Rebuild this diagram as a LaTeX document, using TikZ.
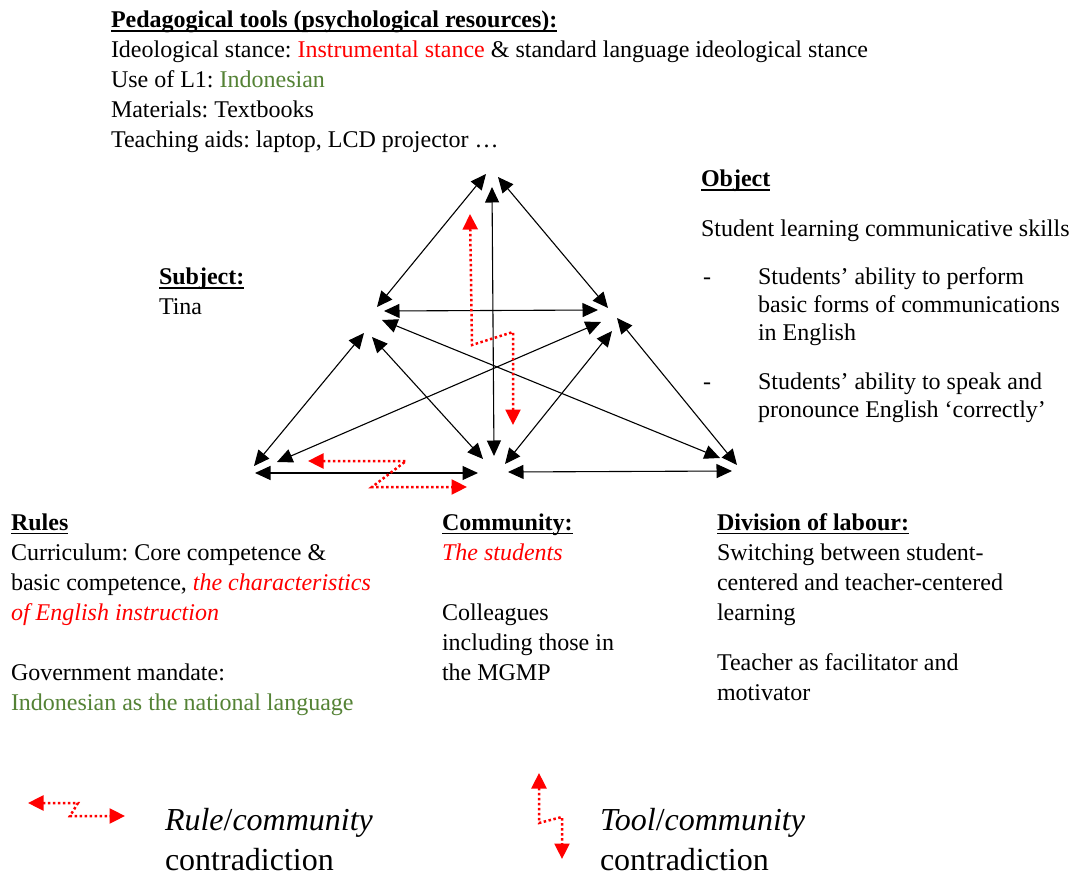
\documentclass[tikz,border=0pt]{standalone}
\usepackage{fontspec}
\setmainfont{Liberation Serif}
\usetikzlibrary{arrows.meta}
\definecolor{clashred}{RGB}{255,0,0}
\definecolor{langgreen}{RGB}{84,130,53}
\frenchspacing
% bold heading with a rule just under the baseline
\newcommand{\headline}[1]{\setbox0\hbox{\bfseries #1}\rlap{\rule[-4pt]{\wd0}{1.5pt}}\box0}
% left-aligned lines, baseline on the first line
\newcommand{\rows}[1]{\begin{tabular}[t]{@{}l@{}}#1\end{tabular}}
% two stacked lines without struts, baseline on the first line
\newcommand{\tworows}[2]{\vtop{\hbox{#1}\hbox{#2}}}
\begin{document}
\begin{tikzpicture}[x=1pt,y=-1pt,
  every node/.style={inner sep=0pt,outer sep=0pt},
  txt/.style={anchor=base west,font=\fontsize{24}{30}\selectfont},
  tighttxt/.style={anchor=base west,font=\fontsize{24}{28}\selectfont},
  legendtxt/.style={anchor=base west,font=\fontsize{32}{40}\selectfont},
  link/.style={line width=1.1pt,{Triangle[length=15.5pt,width=14pt]}-{Triangle[length=15.5pt,width=14pt]}},
  clash/.style={clashred,line width=2.5pt,dash pattern=on 2.5pt off 2.5pt,
    {Triangle[length=15.5pt,width=15pt]}-{Triangle[length=15.5pt,width=15pt]}}]
\fill[white] (0,0) rectangle (1073,874);
\useasboundingbox (0,0) rectangle (1073,874);

% ---------- text blocks ----------
\node[txt] (tools) at (111,28) {\rows{\headline{Pedagogical tools (psychological resources):}\\
  Ideological stance: \textcolor{clashred}{Instrumental stance} \& standard language ideological stance\\
  Use of L1: \textcolor{langgreen}{Indonesian}\\
  Materials: Textbooks\\
  Teaching aids: laptop, LCD projector …}};

\node[txt] (objhead) at (701,187) {\headline{Object}};
\node[txt] (objtext) at (701,237) {Student learning communicative skills};
\node[txt] (dash1) at (703,285) {-};
\node[tighttxt] (obj1) at (758,285) {\rows{Students’ ability to perform\\basic forms of communications\\in English}};
\node[txt] (dash2) at (703,389) {-};
\node[tighttxt] (obj2) at (758,389) {\rows{Students’ ability to speak and\\pronounce English ‘correctly’}};

\node[txt] (subject) at (159,285) {\rows{\headline{Subject:}\\Tina}};

\node[txt] (rules) at (11,530) {\rows{\headline{Rules}\\
  Curriculum: Core competence \&\\
  basic competence, \textcolor{clashred}{\itshape the characteristics}\\
  \textcolor{clashred}{\itshape of English instruction}\\[30pt]
  Government mandate:\\
  \textcolor{langgreen}{Indonesian as the national language}}};

\node[txt] (community) at (442,530) {\rows{\headline{Community:}\\
  \textcolor{clashred}{\itshape The students}\\[30pt]
  Colleagues\\
  including those in\\
  the MGMP}};

\node[txt] (division) at (717,530) {\rows{\headline{Division of labour:}\\
  Switching between student-\\
  centered and teacher-centered\\
  learning\\[20pt]
  Teacher as facilitator and\\
  motivator}};

% ---------- end points of the links around each corner ----------
\coordinate (ts1) at (486,174); \coordinate (ts2) at (377,307);
\coordinate (to1) at (498,177); \coordinate (to2) at (608,308);
\coordinate (tc1) at (492,187); \coordinate (tc2) at (494,456);
\coordinate (so1) at (384,311); \coordinate (so2) at (598,310);
\coordinate (sd1) at (382,320); \coordinate (sd2) at (720,458);
\coordinate (or1) at (601,322); \coordinate (or2) at (277,462);
\coordinate (sr1) at (364,333); \coordinate (sr2) at (254,466);
\coordinate (sc1) at (372,337); \coordinate (sc2) at (483,459);
\coordinate (oc1) at (612,331); \coordinate (oc2) at (505,464);
\coordinate (od1) at (617,318); \coordinate (od2) at (737,465);
\coordinate (rc1) at (255,473); \coordinate (rc2) at (478,473);
\coordinate (cd1) at (508,472); \coordinate (cd2) at (732,471);

\draw[link] (ts1) -- (ts2);
\draw[link] (to1) -- (to2);
\draw[link] (tc1) -- (tc2);
\draw[link] (so1) -- (so2);
\draw[link] (sd1) -- (sd2);
\draw[link] (or1) -- (or2);
\draw[link] (sr1) -- (sr2);
\draw[link] (sc1) -- (sc2);
\draw[link] (oc1) -- (oc2);
\draw[link] (od1) -- (od2);
\draw[link] (rc1) -- (rc2);
\draw[link] (cd1) -- (cd2);

% ---------- contradictions ----------
\coordinate (tca) at (470,214); \coordinate (tcb) at (472,345);
\coordinate (tcc) at (513,332); \coordinate (tcd) at (513,425);
\draw[clash] (tca) -- (tcb) -- (tcc) -- (tcd);

\coordinate (rca) at (308,461); \coordinate (rcb) at (406,461);
\coordinate (rcc) at (372,487); \coordinate (rcd) at (467,487);
\draw[clash] (rca) -- (rcb) -- (rcc) -- (rcd);

% ---------- legend ----------
\coordinate (lra) at (28,803); \coordinate (lrb) at (78,803);
\coordinate (lrc) at (70,816); \coordinate (lrd) at (125,816);
\draw[clash] (lra) -- (lrb) -- (lrc) -- (lrd);
\node[legendtxt] (rulelegend) at (165,830) {\tworows{\textit{Rule}/\textit{community}}{contradiction}};

\coordinate (lta) at (539,773); \coordinate (ltb) at (539,823);
\coordinate (ltc) at (562,817); \coordinate (ltd) at (562,859);
\draw[clash] (lta) -- (ltb) -- (ltc) -- (ltd);
\node[legendtxt] (toollegend) at (600,830) {\tworows{\textit{Tool}/\textit{community}}{contradiction}};
\end{tikzpicture}
\end{document}
